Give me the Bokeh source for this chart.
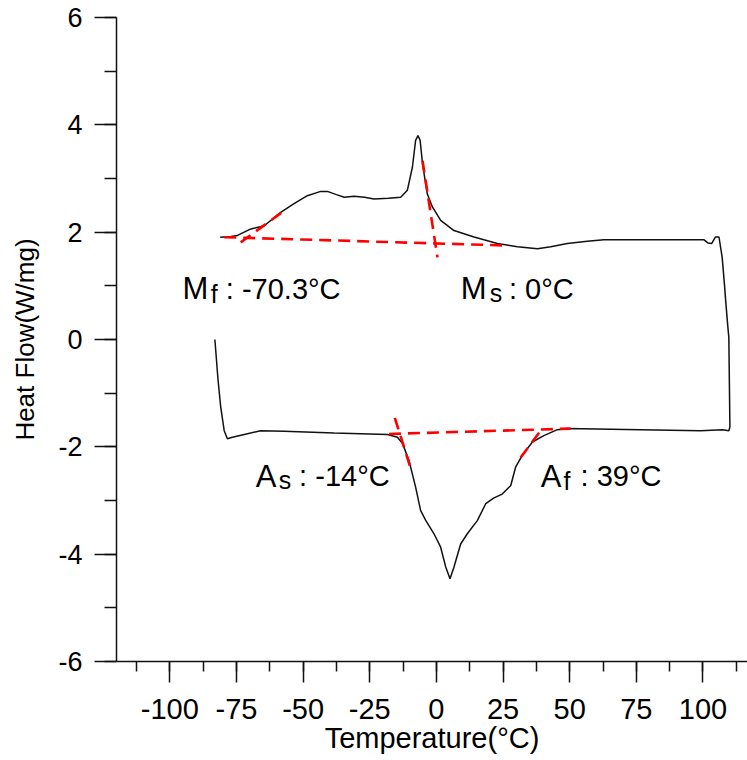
from bokeh.plotting import figure
from bokeh.models import Range1d, SingleIntervalTicker
from bokeh.core.properties import value
from bokeh.embed import file_html
from bokeh.resources import INLINE

# ---------------- data ----------------
# heating run (lower trace), left -> right, then up the right edge
heat_T = [-83.1, -81.9, -80.9, -79.6, -78.4, -76.5, -72.1, -65.9, -57.1, -38.4,
          -18.4, -14.6, -12.7, -10.3, -7.8, -5.9, -4.0, -0.9, 1.6, 3.5, 5.1,
          6.6, 9.1, 11.6, 15.4, 18.5, 21.6, 24.7, 27.9, 29.7, 32.2, 36.0, 40.3,
          45.4, 49.1, 76.6, 99.1, 107.2, 109.7, 110.1]
heat_HF = [0.0, -0.76, -1.26, -1.70, -1.85, -1.82, -1.77, -1.70, -1.71, -1.74,
           -1.77, -1.82, -1.94, -2.25, -2.75, -3.19, -3.37, -3.62, -3.87, -4.24, -4.46,
           -4.24, -3.81, -3.62, -3.37, -3.06, -2.95, -2.88, -2.72, -2.38, -2.16, -1.91, -1.79,
           -1.68, -1.66, -1.68, -1.70, -1.68, -1.70, -1.63]

# cooling run (upper trace), right edge -> left
cool_T = [110.1, 109.7, 109.3, 108.5, 108.1, 107.2, 106.0, 104.7, 103.3, 101.8,
          100.3, 76.6, 62.8, 56.6, 49.1, 42.9, 37.9, 30.4, 22.9, 14.1, 6.6, 1.6,
          -1.5, -3.4, -5.2, -6.1, -6.9, -7.8, -9.0, -10.9, -13.4, -18.0, -23.4,
          -27.0, -30.9, -34.6, -37.5, -40.9, -43.4, -48.4, -53.4, -58.4, -64.6,
          -69.6, -74.6, -77.0, -81.1]
cool_HF = [-1.63, 0.04, 0.25, 0.73, 1.00, 1.53, 1.91, 1.91, 1.79, 1.80,
           1.86, 1.86, 1.86, 1.83, 1.79, 1.73, 1.69, 1.73, 1.79, 1.91, 2.03, 2.22,
           2.47, 2.71, 3.27, 3.71, 3.80, 3.71, 3.21, 2.78, 2.65, 2.63, 2.62,
           2.65, 2.67, 2.65, 2.70, 2.76, 2.76, 2.68, 2.53, 2.37, 2.12,
           2.06, 1.94, 1.92, 1.906]

# construction lines (baselines and tangents) used to read the transformation temperatures
tan_x0 = [-79.6, -73.4, -5.2, -17.8, -15.6, 31.6]
tan_y0 = [1.906, 1.81, 3.33, -1.76, -1.46, -2.20]
tan_x1 = [27.2, -57.1, 0.4, 50.4, -9.4, 39.5]
tan_y1 = [1.75, 2.40, 1.53, -1.66, -2.44, -1.67]

# transformation temperature annotations: symbol, subscript, value text
ann_sym = ["M", "M", "A", "A"]
ann_sub = ["f", "s", "s", "f"]
ann_val = [": -70.3°C", ": 0°C", ": -14°C", ": 39°C"]

x_ticks = [-100, -75, -50, -25, 0, 25, 50, 75, 100]
y_ticks = [-6, -4, -2, 0, 2, 4, 6]
x_title = "Temperature(°C)"
y_title = "Heat Flow(W/mg)"

FONT = "Liberation Sans"

p = figure(width=747, height=760,
           x_range=Range1d(-120, 116.7), y_range=Range1d(-6, 6),
           output_backend="svg", toolbar_location=None,
           min_border_left=116, min_border_right=0,
           min_border_top=17, min_border_bottom=99)
p.outline_line_color = None
p.grid.visible = False
p.background_fill_color = "white"
p.border_fill_color = "white"

p.xaxis.ticker = SingleIntervalTicker(interval=25, num_minor_ticks=2)
p.yaxis.ticker = SingleIntervalTicker(interval=2, num_minor_ticks=2)
p.xaxis.major_label_overrides = {t: str(t) for t in x_ticks}
p.yaxis.major_label_overrides = {t: str(t) for t in y_ticks}

for ax in (p.xaxis, p.yaxis):
    ax.axis_line_color = "#111111"
    ax.axis_line_width = 1.5
    ax.major_tick_line_color = "#111111"
    ax.major_tick_line_width = 1.5
    ax.minor_tick_line_color = "#111111"
    ax.minor_tick_line_width = 1.5
    ax.major_tick_in = 0
    ax.minor_tick_in = 0
    ax.major_label_text_font = FONT
    ax.major_label_text_color = "black"
    ax.axis_label_text_font = FONT
    ax.axis_label_text_font_style = "normal"
    ax.axis_label_text_color = "black"

p.xaxis.major_tick_out = 21
p.xaxis.minor_tick_out = 10
p.xaxis.major_label_text_font_size = "29px"
p.xaxis.major_label_standoff = 16
p.xaxis.axis_label = x_title
p.xaxis.axis_label_text_font_size = "29px"
p.xaxis.axis_label_standoff = 0

p.yaxis.major_tick_out = 22
p.yaxis.minor_tick_out = 12
p.yaxis.major_label_text_font_size = "27px"
p.yaxis.major_label_standoff = 12
p.yaxis.axis_label = y_title
p.yaxis.axis_label_text_font_size = "26px"
p.yaxis.axis_label_standoff = 15

# DSC trace
p.line(heat_T, heat_HF, line_color="#111111", line_width=1.5)
p.line(cool_T, cool_HF, line_color="#111111", line_width=1.5)

# construction lines
p.segment(tan_x0, tan_y0, tan_x1, tan_y1, line_color="#ff0000",
          line_width=2.6, line_dash="12 7")

# annotation placement (data coords)
sym_x = [-95.2, 9.1, -67.8, 39.1]
sym_y = [0.95, 0.95, -2.55, -2.55]
sub_x = [-84.6, 20.0, -59.1, 47.7]
sub_dy = [0.10, 0.08, 0.07, 0.09]
val_x = [-79.0, 27.2, -51.5, 54.1]

p.text(x=sym_x, y=sym_y, text=ann_sym, text_font=value(FONT),
       text_font_size="31px", text_align="left", text_baseline="alphabetic",
       text_color="black")
p.text(x=sub_x, y=[yy - d for yy, d in zip(sym_y, sub_dy)], text=ann_sub,
       text_font=value(FONT), text_font_size="25px", text_align="left",
       text_baseline="alphabetic", text_color="black")
p.text(x=val_x, y=sym_y, text=ann_val, text_font=value(FONT),
       text_font_size="29px", text_align="left", text_baseline="alphabetic",
       text_color="black")

open("out.html", "w").write(file_html(p, INLINE))
